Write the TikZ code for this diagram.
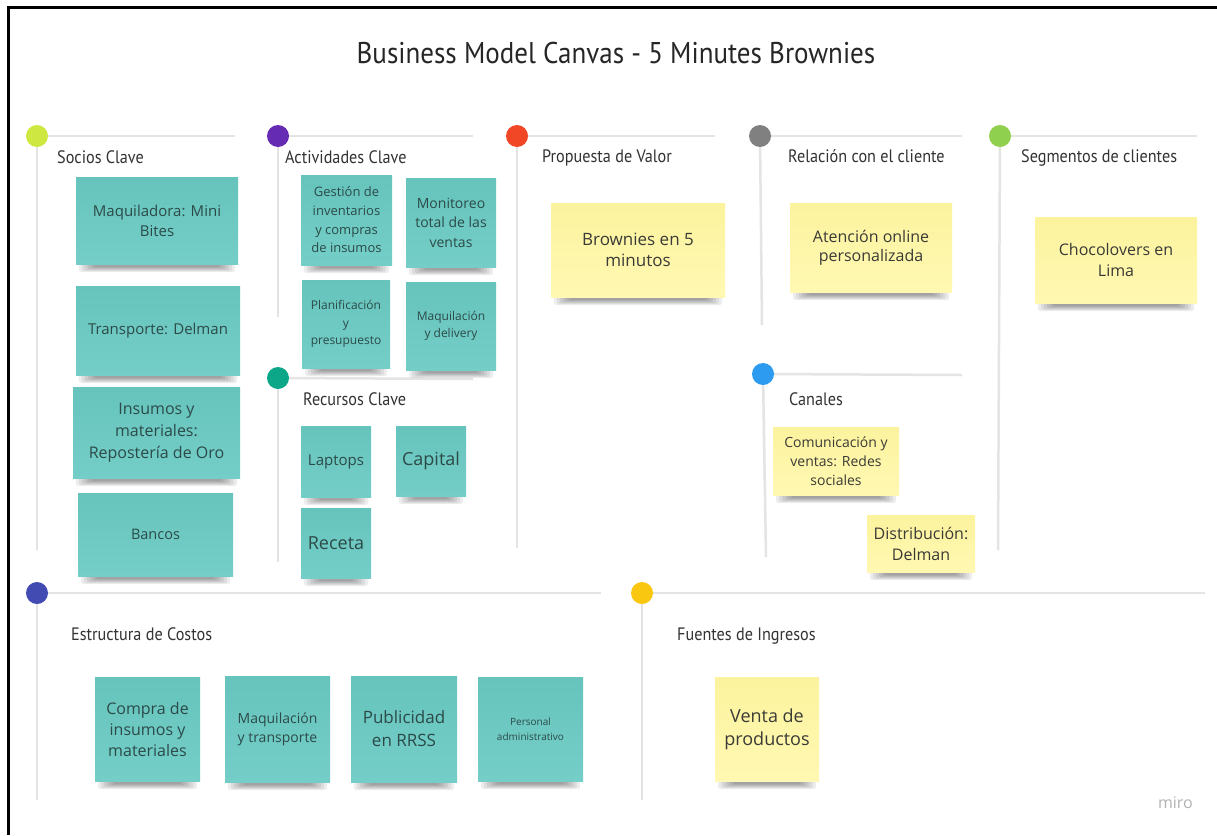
\documentclass[tikz,border=0pt]{standalone}
\usepackage{fontspec}
\setmainfont{Open Sans}
\newfontfamily\headfont[FakeStretch=0.9]{PT Sans}
\definecolor{railgray}{HTML}{E4E4E4}
\definecolor{headtext}{HTML}{333333}
\definecolor{teal1}{HTML}{66C4BD}
\definecolor{teal2}{HTML}{74CEC7}
\definecolor{tealtext}{HTML}{2C4A48}
\definecolor{yel1}{HTML}{FCF39E}
\definecolor{yel2}{HTML}{FFF8B2}
\definecolor{yeltext}{HTML}{3A3A36}
\definecolor{clime}{HTML}{CEE741}
\definecolor{cviolet}{HTML}{652CB3}
\definecolor{cteal}{HTML}{0CA789}
\definecolor{cred}{HTML}{F24726}
\definecolor{cgray}{HTML}{808080}
\definecolor{cgreen}{HTML}{8FD14F}
\definecolor{cblue}{HTML}{2D9BF0}
\definecolor{cindigo}{HTML}{414BB2}
\definecolor{cyellow}{HTML}{FAC710}
\pgfdeclarelayer{notebed}
\pgfsetlayers{notebed,main}
\begin{document}
\begin{tikzpicture}[x=1pt,y=-1pt,
  dot/.style={circle,inner sep=0pt,minimum size=22pt},
  rail/.style={line width=2.5pt,draw=railgray},
  head/.style={anchor=base west,inner sep=0pt,text=headtext,font=\headfont\fontsize{18}{21}\selectfont},
  fs/.style 2 args={font=\fontsize{#1}{#2}\selectfont},
  note/.style={inner sep=0pt,align=center,anchor=center},
  tealnote/.style={note,top color=teal1,bottom color=teal2,text=tealtext},
  yellownote/.style={note,top color=yel1,bottom color=yel2,text=yeltext}]
\useasboundingbox (0,0) rectangle (1217,835);

% frame
\draw[line width=3pt] (8.5,835) -- (8.5,7.5) -- (1217,7.5);

% title
\node[anchor=base,inner sep=0pt,text=black!85,font=\headfont\fontsize{30}{34}\selectfont] (title) at (616,63) {Business Model Canvas - 5 Minutes Brownies};

% section markers
\node[dot,fill=clime]   (dsoc) at (37,136) {};
\node[dot,fill=cviolet] (dact) at (278,136) {};
\node[dot,fill=cteal]   (drec) at (278,378) {};
\node[dot,fill=cred]    (dpro) at (517,136) {};
\node[dot,fill=cgray]   (drel) at (760,136) {};
\node[dot,fill=cgreen]  (dseg) at (1000,136) {};
\node[dot,fill=cblue]   (dcan) at (763,374) {};
\node[dot,fill=cindigo] (dest) at (37,593) {};
\node[dot,fill=cyellow] (dfue) at (642,593) {};

% rail ends
\coordinate (socH) at (235,136);  \coordinate (socV) at (37,550);
\coordinate (actH) at (473,136);  \coordinate (actV) at (278,317);
\coordinate (recH) at (473,379);  \coordinate (recV) at (278,562);
\coordinate (proH) at (715,136);  \coordinate (proV) at (517,548);
\coordinate (relH) at (962,136);  \coordinate (relV) at (762,325);
\coordinate (segH) at (1197,136); \coordinate (segV) at (998,550);
\coordinate (canH) at (962,375);  \coordinate (canV) at (766,557);
\coordinate (estH) at (601,593);  \coordinate (estV) at (37,800);
\coordinate (fueH) at (1205,593); \coordinate (fueV) at (642,800);

% headings
\node[head] (hsoc) at (57,163)   {Socios Clave};
\node[head] (hact) at (285,163)  {Actividades Clave};
\node[head] (hrec) at (303,405)  {Recursos Clave};
\node[head] (hpro) at (542,162)  {Propuesta de Valor};
\node[head] (hrel) at (788,162)  {Relación con el cliente};
\node[head] (hseg) at (1021,162) {Segmentos de clientes};
\node[head] (hcan) at (789,405)  {Canales};
\node[head] (hest) at (71,640)   {Estructura de Costos};
\node[head] (hfue) at (677,640)  {Fuentes de Ingresos};

% socios clave
\node[tealnote,minimum width=162pt,minimum height=87pt,fs={15}{20}] (mq) at (157,220.5) {Maquiladora: Mini\\Bites};
\node[tealnote,minimum width=164pt,minimum height=89pt,fs={15}{20}] (tr) at (158,330.5) {Transporte: Delman};
\node[tealnote,minimum width=167pt,minimum height=91pt,fs={16}{22}] (in) at (156.5,432.5) {Insumos y\\materiales:\\Repostería de Oro};
\node[tealnote,minimum width=155pt,minimum height=83pt,fs={14.5}{18}] (ba) at (155.5,534.5) {Bancos};

% actividades clave
\node[tealnote,minimum width=91pt,minimum height=90pt,fs={13}{18.7}] (ge) at (346.5,220) {Gestión de\\inventarios\\y compras\\de insumos};
\node[tealnote,minimum width=90pt,minimum height=89pt,fs={14}{19.5}] (mo) at (451,222.5) {Monitoreo\\total de las\\ventas};
\node[tealnote,minimum width=88pt,minimum height=88pt,fs={12}{17.5}] (pl) at (346,324) {Planificación\\y\\presupuesto};
\node[tealnote,minimum width=90pt,minimum height=88pt,fs={12}{17}] (md) at (451,326) {Maquilación\\y delivery};

% recursos clave
\node[tealnote,minimum width=70pt,minimum height=71pt,fs={15}{18}] (la) at (336,461.5) {Laptops};
\node[tealnote,minimum width=70pt,minimum height=70pt,fs={18}{22}] (ca) at (431,461) {Capital};
\node[tealnote,minimum width=70pt,minimum height=70pt,fs={18}{22}] (re) at (336,543) {Receta};

% estructura de costos
\node[tealnote,minimum width=105pt,minimum height=104pt,fs={16}{21}] (c1) at (147.5,729) {Compra de\\insumos y\\materiales};
\node[tealnote,minimum width=105pt,minimum height=106pt,fs={14}{19}] (c2) at (277.5,729) {Maquilación\\y transporte};
\node[tealnote,minimum width=106pt,minimum height=106pt,fs={17}{23}] (c3) at (404,729) {Publicidad\\en RRSS};
\node[tealnote,minimum width=105pt,minimum height=104pt,fs={10}{15}] (c4) at (530.5,729) {Personal\\administrativo};

% propuesta, relacion, segmentos, canales, ingresos
\node[yellownote,minimum width=174pt,minimum height=94pt,fs={17}{21}] (pv) at (638,250) {Brownies en 5\\minutos};
\node[yellownote,minimum width=162pt,minimum height=89pt,fs={16}{19}] (rc) at (871,247.5) {Atención online\\personalizada};
\node[yellownote,minimum width=162pt,minimum height=86pt,fs={16}{21}] (sg) at (1116,260) {Chocolovers en\\Lima};
\node[yellownote,minimum width=126pt,minimum height=68pt,fs={14}{19}] (cn1) at (836,461) {Comunicación y\\ventas: Redes\\sociales};
\node[yellownote,minimum width=108pt,minimum height=57pt,fs={16}{21}] (cn2) at (921,543.5) {Distribución:\\Delman};
\node[yellownote,minimum width=104pt,minimum height=104pt,fs={18}{23}] (vt) at (767,729) {Venta de\\productos};

% watermark
\node[anchor=base east,inner sep=0pt,text=black!30,font=\fontsize{16}{18}\selectfont] (miro) at (1193,808) {miro};

% rails and note shadows, kept beneath everything else
\begin{pgfonlayer}{notebed}
  \fill[white] (0,0) rectangle (1217,835);
  \foreach \d/\h/\v in {dsoc/socH/socV,dact/actH/actV,drec/recH/recV,dpro/proH/proV,drel/relH/relV,dseg/segH/segV,dcan/canH/canV,dest/estH/estV,dfue/fueH/fueV}{
    \draw[rail] (\d.center) -- (\h);
    \draw[rail] (\d.center) -- (\v);
  }
  \foreach \n in {mq,tr,in,ba,ge,mo,pl,md,la,ca,re,c1,c2,c3,c4,pv,rc,sg,cn1,cn2,vt}{
    \foreach \i/\o in {3/-8,6/-7,9/-6,12/-5,15/-4,18/-3}{
      \fill[black,opacity=0.07,rounded corners=3pt] ([xshift=\i pt,yshift=4pt]\n.south west) rectangle ([xshift=-\i pt,yshift=\o pt]\n.south east);
    }
  }
\end{pgfonlayer}
\end{tikzpicture}
\end{document}
